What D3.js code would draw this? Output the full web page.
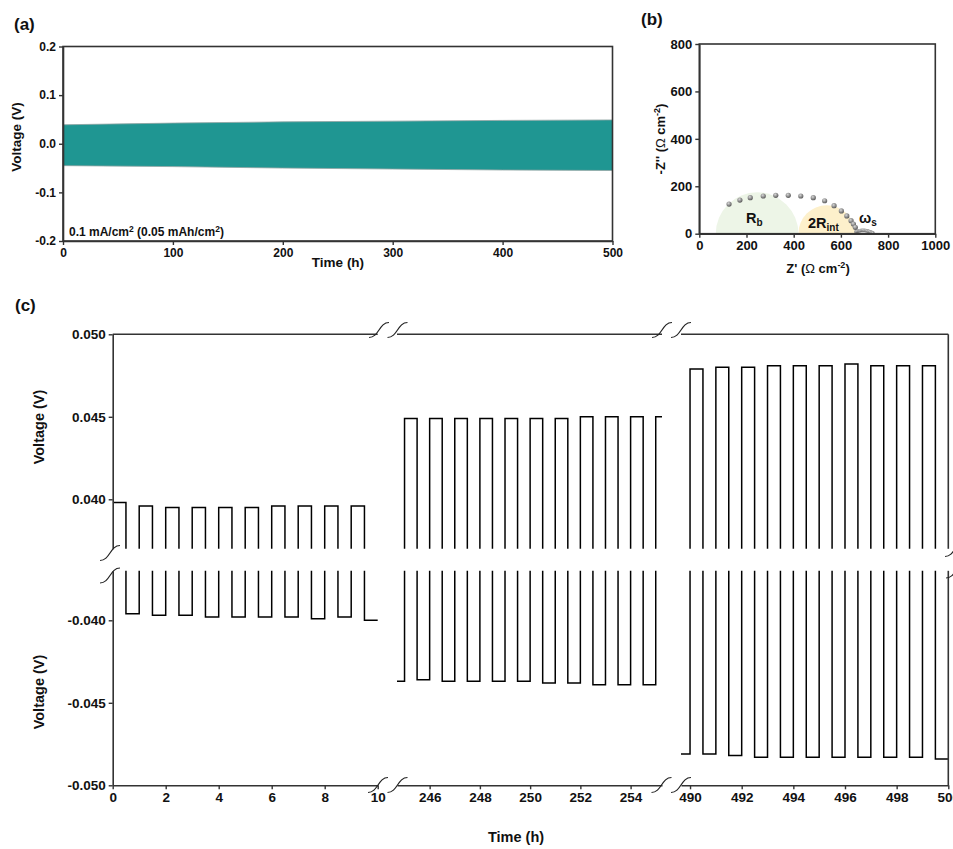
<!DOCTYPE html>
<html>
<head>
<meta charset="utf-8">
<script src="https://cdn.jsdelivr.net/npm/d3@7"></script>
<style>
body { margin: 0; background: #fff; }
svg text { font-family: Arial, "Liberation Sans", sans-serif; font-weight: bold; fill: #111; }
</style>
</head>
<body>
<div id="chart"></div>
<script>
var width = 953,
    height = 849;

// ---- data ----
// (a) envelope of the long term cycling curve
var bandTime  = [0, 100, 200, 300, 400, 500];
var bandUpper = [0.039, 0.0425, 0.045, 0.0465, 0.048, 0.049];
var bandLower = [-0.045, -0.047, -0.050, -0.052, -0.054, -0.055];
var aTicksX = [0, 100, 200, 300, 400, 500];
var aTicksY = [-0.2, -0.1, 0.0, 0.1, 0.2];

// (b) Nyquist points
var nyqRe = [126, 172, 216, 271, 324, 377, 430, 483, 531, 571, 602, 625, 643, 653, 661];
var nyqIm = [125, 142, 152, 159, 162, 162, 159, 152, 139, 118, 96, 75, 55, 41, 27];
var tailRe = [664, 670, 676, 682, 688, 694, 700, 706, 712, 718, 724, 730, 735];
var tailIm = [9, 11, 12, 13, 14, 14, 14, 13, 12, 10, 8, 5, 3];
var rbArc = [70, 420];     // Z' start / end of R_b semicircle
var rintArc = [420, 660];  // Z' start / end of 2R_int semicircle
var bTicksX = [0, 200, 400, 600, 800, 1000];
var bTicksY = [0, 200, 400, 600, 800];

// (c) zoomed voltage profiles, step points (time h, voltage V)
var seg1Time = [0, 0.5, 1, 1.5, 2, 2.5, 3, 3.5, 4, 4.5, 5, 5.5, 6, 6.5, 7, 7.5, 8, 8.5, 9, 9.5, 10];
var seg1Volt = [0.0398, -0.0396, 0.0396, -0.0397, 0.0395, -0.0397, 0.0395, -0.0398, 0.0395, -0.0398,
                0.0395, -0.0398, 0.0396, -0.0398, 0.0396, -0.0399, 0.0396, -0.0398, 0.0396, -0.0400, -0.0400];
var seg2Time = [244.7, 245, 245.5, 246, 246.5, 247, 247.5, 248, 248.5, 249, 249.5, 250, 250.5,
                251, 251.5, 252, 252.5, 253, 253.5, 254, 254.5, 255, 255.25];
var seg2Volt = [-0.0437, 0.0449, -0.0436, 0.0449, -0.0437, 0.0449, -0.0437, 0.0449, -0.0437, 0.0449, -0.0437,
                0.0449, -0.0438, 0.0449, -0.0438, 0.0450, -0.0439, 0.0450, -0.0439, 0.0450, -0.0439, 0.0450, 0.0450];
var seg3Time = [489.65, 490, 490.5, 491, 491.5, 492, 492.5, 493, 493.5, 494, 494.5, 495, 495.5,
                496, 496.5, 497, 497.5, 498, 498.5, 499, 499.5, 500];
var seg3Volt = [-0.0481, 0.0479, -0.0481, 0.0480, -0.0482, 0.0480, -0.0483, 0.0481, -0.0483, 0.0481, -0.0483,
                0.0481, -0.0483, 0.0482, -0.0483, 0.0481, -0.0483, 0.0481, -0.0483, 0.0481, -0.0484, -0.0484];
var segDomains = [[0, 10], [244.7, 255.25], [489.65, 500]];
var segTicks = [[0, 2, 4, 6, 8, 10], [246, 248, 250, 252, 254], [490, 492, 494, 496, 498, 500]];
var cTicksUp = [0.040, 0.045, 0.050];
var cTicksLo = [-0.050, -0.045, -0.040];

var svg = d3.select("#chart")
    .append("svg")
    .attr("width", width)
    .attr("height", height);

var AX = "#333";

function styleAxis(g, fs) {
  g.selectAll("path.domain").attr("stroke", AX).attr("stroke-width", 1.6);
  g.selectAll(".tick line").attr("stroke", AX).attr("stroke-width", 1.4);
  g.selectAll(".tick text").attr("font-size", fs).attr("fill", "#111")
    .style("font-family", "Arial, 'Liberation Sans', sans-serif").style("font-weight", "bold");
}

function label(x, y, txt, fs, rot) {
  var t = svg.append("text").attr("font-size", fs).attr("text-anchor", "middle");
  if (rot) t.attr("transform", "translate(" + x + "," + y + ") rotate(-90)");
  else t.attr("x", x).attr("y", y);
  t.text(txt);
  return t;
}

// ===================== panel (a) =====================
var ax = d3.scaleLinear().domain([0, 500]).range([63, 612.5]);
var ay = d3.scaleLinear().domain([-0.2, 0.2]).range([241, 46.5]);

var bandData = bandTime.map(function(t, i) { return {t: t, hi: bandUpper[i], lo: bandLower[i]}; });

svg.append("path")
    .datum(bandData)
    .attr("fill", "#1f9692")
    .attr("d", d3.area()
      .x(function(d) { return ax(d.t); })
      .y0(function(d) { return ay(d.lo); })
      .y1(function(d) { return ay(d.hi); }));

["hi", "lo"].forEach(function(k) {
  svg.append("path")
    .datum(bandData)
    .attr("fill", "none")
    .attr("stroke", "#8fa3a2")
    .attr("stroke-width", 0.8)
    .attr("d", d3.line().x(function(d) { return ax(d.t); }).y(function(d) { return ay(d[k]); }));
});

svg.append("rect")
    .attr("x", 63).attr("y", 46.5).attr("width", 549.5).attr("height", 194.5)
    .attr("fill", "none").attr("stroke", AX).attr("stroke-width", 1.6);

var gax = svg.append("g").attr("transform", "translate(0,241)")
    .call(d3.axisBottom(ax).tickValues(aTicksX).tickSize(4).tickSizeOuter(0).tickFormat(d3.format("d")));
styleAxis(gax, 12);
var gay = svg.append("g").attr("transform", "translate(63,0)")
    .call(d3.axisLeft(ay).tickValues(aTicksY).tickSize(4).tickSizeOuter(0)
      .tickFormat(function(d) { return d.toFixed(1); }));
styleAxis(gay, 12);

label(338, 267, "Time (h)", 13.5);
label(21, 137, "Voltage (V)", 13.5, true);
svg.append("text").attr("x", 14).attr("y", 30).attr("font-size", 17).text("(a)");

var note = svg.append("text").attr("x", 69).attr("y", 236).attr("font-size", 12);
note.append("tspan").text("0.1 mA/cm");
note.append("tspan").attr("font-size", 8.5).attr("dy", -4).text("2");
note.append("tspan").attr("dy", 4).text(" (0.05 mAh/cm");
note.append("tspan").attr("font-size", 8.5).attr("dy", -4).text("2");
note.append("tspan").attr("dy", 4).text(")");

// ===================== panel (b) =====================
var bx = d3.scaleLinear().domain([0, 1000]).range([699.3, 935.3]);
var by = d3.scaleLinear().domain([0, 800]).range([233.7, 44]);

function semi(arc, fill) {
  var r = (arc[1] - arc[0]) / 2;
  var rx = (bx(arc[1]) - bx(arc[0])) / 2, ry = by(0) - by(r);
  svg.append("path")
    .attr("d", "M" + bx(arc[0]) + "," + by(0) + " A" + rx + "," + ry + " 0 0 1 " + bx(arc[1]) + "," + by(0) + " Z")
    .attr("fill", fill);
}
semi(rbArc, "#edf5e7");
semi(rintArc, "#fdf0cb");

var defs = svg.append("defs");
var grad = defs.append("radialGradient").attr("id", "ball").attr("cx", "40%").attr("cy", "35%").attr("r", "65%");
grad.append("stop").attr("offset", "0%").attr("stop-color", "#d8d8d8");
grad.append("stop").attr("offset", "100%").attr("stop-color", "#5a5a5a");

svg.selectAll(".tail")
    .data(tailRe)
    .enter().append("circle")
    .attr("class", "tail")
    .attr("cx", function(d) { return bx(d); })
    .attr("cy", function(d, i) { return by(tailIm[i]); })
    .attr("r", 1.9)
    .attr("fill", "url(#ball)");

svg.selectAll(".nyq")
    .data(nyqRe)
    .enter().append("circle")
    .attr("class", "nyq")
    .attr("cx", function(d) { return bx(d); })
    .attr("cy", function(d, i) { return by(nyqIm[i]); })
    .attr("r", 2.6)
    .attr("fill", "url(#ball)");

svg.append("rect")
    .attr("x", 699.3).attr("y", 44).attr("width", 236).attr("height", 189.7)
    .attr("fill", "none").attr("stroke", AX).attr("stroke-width", 1.6);

var gbx = svg.append("g").attr("transform", "translate(0,233.7)")
    .call(d3.axisBottom(bx).tickValues(bTicksX).tickSize(4).tickSizeOuter(0).tickFormat(d3.format("d")));
styleAxis(gbx, 13);
var gby = svg.append("g").attr("transform", "translate(699.3,0)")
    .call(d3.axisLeft(by).tickValues(bTicksY).tickSize(4).tickSizeOuter(0).tickFormat(d3.format("d")));
styleAxis(gby, 13);

svg.append("text").attr("x", 641).attr("y", 25).attr("font-size", 17).text("(b)");

var rb = svg.append("text").attr("x", 746).attr("y", 222.5).attr("font-size", 14.5);
rb.append("tspan").text("R");
rb.append("tspan").attr("font-size", 10).attr("dy", 3).text("b");
var ri = svg.append("text").attr("x", 808).attr("y", 228).attr("font-size", 14.5);
ri.append("tspan").text("2R");
ri.append("tspan").attr("font-size", 10).attr("dy", 3).text("int");
var ws = svg.append("text").attr("x", 859).attr("y", 223).attr("font-size", 14.5);
ws.append("tspan").text("ω");
ws.append("tspan").attr("font-size", 10).attr("dy", 3).text("s");

var zy = svg.append("text").attr("font-size", 13).attr("text-anchor", "middle")
    .attr("transform", "translate(665,139) rotate(-90)");
zy.append("tspan").text("-Z'' (");
zy.append("tspan").style("font-weight", "normal").text("Ω");
zy.append("tspan").text(" cm");
zy.append("tspan").attr("font-size", 9).attr("dy", -5).text("-2");
zy.append("tspan").attr("dy", 5).text(")");

var zx = svg.append("text").attr("font-size", 13).attr("text-anchor", "middle")
    .attr("x", 818).attr("y", 273);
zx.append("tspan").text("Z' (");
zx.append("tspan").style("font-weight", "normal").text("Ω");
zx.append("tspan").text(" cm");
zx.append("tspan").attr("font-size", 9).attr("dy", -5).text("-2");
zx.append("tspan").attr("dy", 5).text(")");

// ===================== panel (c) =====================
var cTop = 334.3, cBot = 785.3, cLeft = 112.7, cRight = 948.3;
var upY = d3.scaleLinear().domain([0.037, 0.050]).range([548.8, cTop]);
var loY = d3.scaleLinear().domain([-0.050, -0.037]).range([cBot, 570.8]);
var segRanges = [[cLeft, 377.7], [397, 662], [681, cRight]];
var segData = [[seg1Time, seg1Volt], [seg2Time, seg2Volt], [seg3Time, seg3Volt]];

var halves = [{y: upY, y0: cTop, y1: 548.8}, {y: loY, y0: 570.8, y1: cBot}];

segData.forEach(function(sd, si) {
  var sx = d3.scaleLinear().domain(segDomains[si]).range(segRanges[si]);
  var pts = sd[0].map(function(t, i) { return [t, sd[1][i]]; });
  halves.forEach(function(h, hi) {
    var id = "clip" + si + "_" + hi;
    defs.append("clipPath").attr("id", id).append("rect")
      .attr("x", segRanges[si][0]).attr("y", h.y0)
      .attr("width", segRanges[si][1] - segRanges[si][0] + 1)
      .attr("height", h.y1 - h.y0);
    svg.append("path")
      .datum(pts)
      .attr("clip-path", "url(#" + id + ")")
      .attr("fill", "none")
      .attr("stroke", "#000")
      .attr("stroke-width", 1.5)
      .attr("d", d3.line().curve(d3.curveStepAfter)
        .x(function(d) { return sx(d[0]); })
        .y(function(d) { return h.y(d[1]); }));
  });
  // bottom axis of the segment
  var g = svg.append("g").attr("transform", "translate(0," + cBot + ")")
    .call(d3.axisBottom(sx).tickValues(segTicks[si]).tickSize(4).tickSizeOuter(0).tickFormat(d3.format("d")));
  styleAxis(g, 13.5);
  // top border
  svg.append("line").attr("x1", segRanges[si][0]).attr("x2", segRanges[si][1])
    .attr("y1", cTop).attr("y2", cTop).attr("stroke", AX).attr("stroke-width", 1.6);
});

var gcu = svg.append("g").attr("transform", "translate(" + cLeft + ",0)")
    .call(d3.axisLeft(upY).tickValues(cTicksUp).tickSize(4).tickSizeOuter(0)
      .tickFormat(function(d) { return d.toFixed(3); }));
styleAxis(gcu, 13.5);
var gcl = svg.append("g").attr("transform", "translate(" + cLeft + ",0)")
    .call(d3.axisLeft(loY).tickValues(cTicksLo).tickSize(4).tickSizeOuter(0)
      .tickFormat(function(d) { return d.toFixed(3); }));
styleAxis(gcl, 13.5);

// right border
svg.append("line").attr("x1", cRight).attr("x2", cRight).attr("y1", cTop).attr("y2", 548.8)
  .attr("stroke", AX).attr("stroke-width", 1.6);
svg.append("line").attr("x1", cRight).attr("x2", cRight).attr("y1", 570.8).attr("y2", cBot)
  .attr("stroke", AX).attr("stroke-width", 1.6);

// axis break marks
function brk(cx, cy) {
  svg.append("path")
    .attr("d", "M" + (cx - 10) + "," + (cy + 7.5) + " C" + cx + "," + (cy + 7.5) + " " + cx + "," + (cy - 7.5) + " " + (cx + 10) + "," + (cy - 7.5))
    .attr("fill", "none").attr("stroke", "#222").attr("stroke-width", 1.2);
}
[[379, 330], [397.5, 330], [662, 330], [681, 330],
 [378, 785], [397.5, 785], [661.5, 785], [681, 785],
 [110, 553], [110, 575.5], [955, 549], [956, 570.5]].forEach(function(p) { brk(p[0], p[1]); });

label(44, 427, "Voltage (V)", 14.5, true);
label(44, 692, "Voltage (V)", 14.5, true);
label(516, 842, "Time (h)", 14.5);
svg.append("text").attr("x", 15).attr("y", 311).attr("font-size", 17).text("(c)");
</script>
</body>
</html>
